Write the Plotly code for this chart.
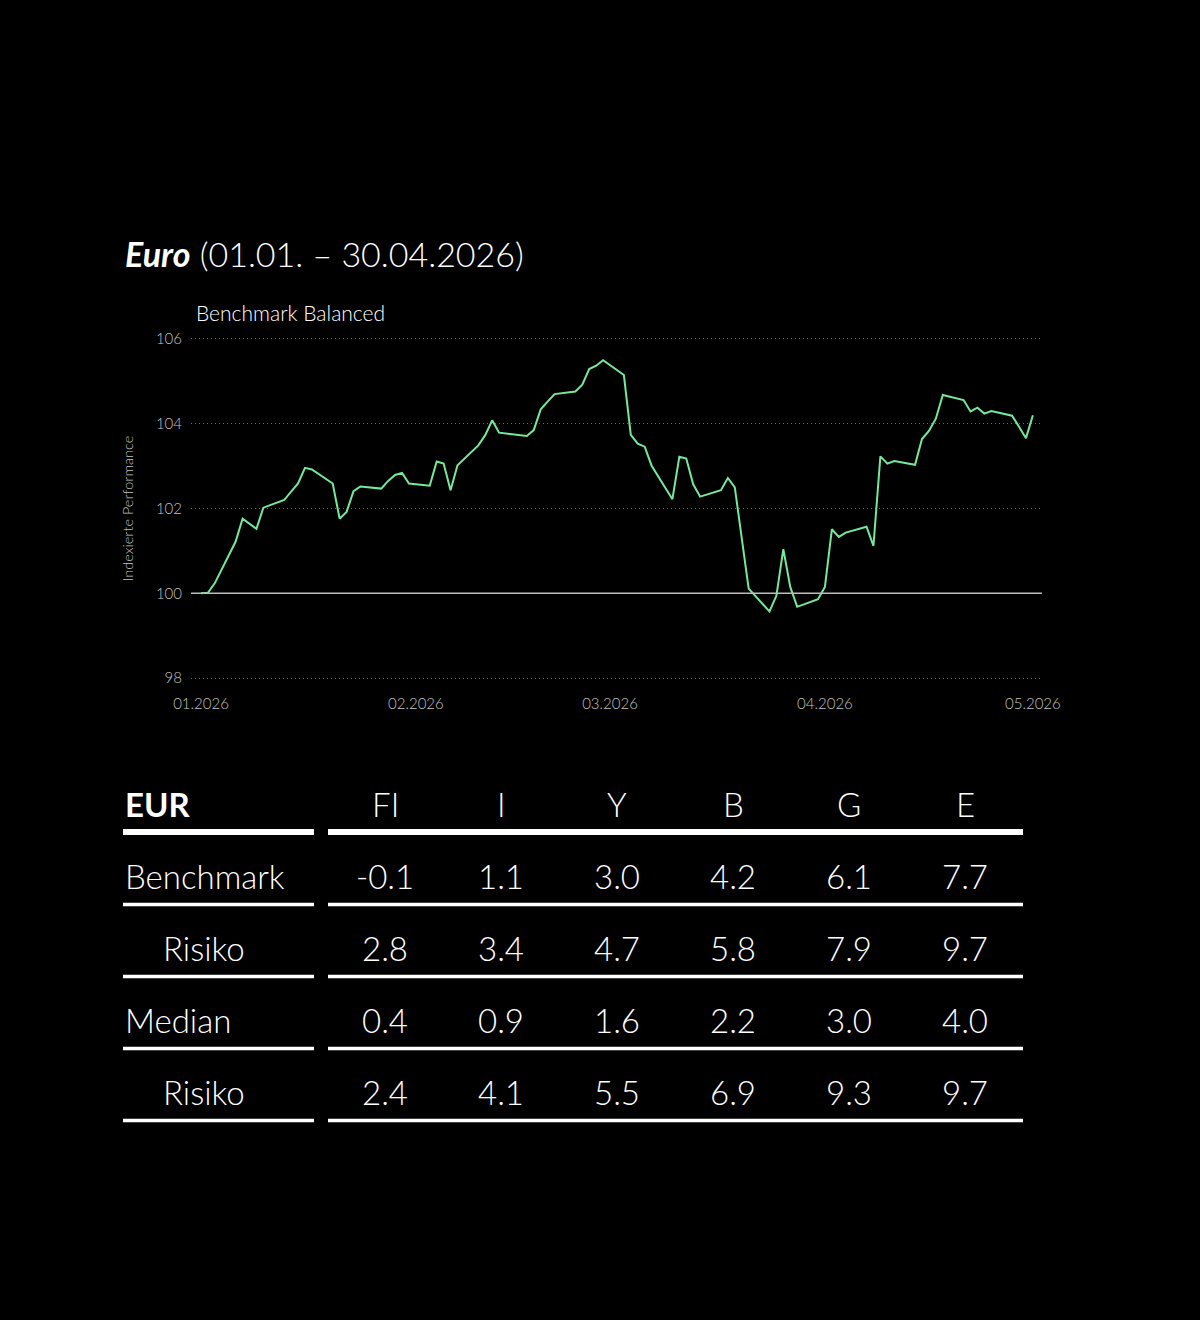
import plotly.graph_objects as go

W, H = 1200, 1320

# Index performance, Benchmark Balanced
dates = [
    "2026-01-01", "2026-01-02", "2026-01-03", "2026-01-06", "2026-01-07", "2026-01-08",
    "2026-01-09", "2026-01-10", "2026-01-13", "2026-01-14", "2026-01-15", "2026-01-16",
    "2026-01-17", "2026-01-20", "2026-01-21", "2026-01-22", "2026-01-23", "2026-01-24",
    "2026-01-27", "2026-01-28", "2026-01-29", "2026-01-30", "2026-01-31", "2026-02-03",
    "2026-02-04", "2026-02-05", "2026-02-06", "2026-02-07", "2026-02-10", "2026-02-11",
    "2026-02-12", "2026-02-13", "2026-02-14", "2026-02-17", "2026-02-18", "2026-02-19",
    "2026-02-20", "2026-02-21", "2026-02-24", "2026-02-25", "2026-02-26", "2026-02-27",
    "2026-02-28", "2026-03-03", "2026-03-04", "2026-03-05", "2026-03-06", "2026-03-07",
    "2026-03-10", "2026-03-11", "2026-03-12", "2026-03-13", "2026-03-14", "2026-03-17",
    "2026-03-18", "2026-03-19", "2026-03-20", "2026-03-21", "2026-03-24", "2026-03-25",
    "2026-03-26", "2026-03-27", "2026-03-28", "2026-03-31", "2026-04-01", "2026-04-02",
    "2026-04-03", "2026-04-04", "2026-04-07", "2026-04-08", "2026-04-09", "2026-04-10",
    "2026-04-11", "2026-04-14", "2026-04-15", "2026-04-16", "2026-04-17", "2026-04-18",
    "2026-04-21", "2026-04-22", "2026-04-23", "2026-04-24", "2026-04-25", "2026-04-28",
    "2026-04-29", "2026-04-30", "2026-05-01",
]
values = [
    100.00, 100.01, 100.24, 101.22, 101.76, 101.64,
    101.52, 102.02, 102.20, 102.40, 102.59, 102.96,
    102.92, 102.59, 101.76, 101.92, 102.41, 102.52,
    102.47, 102.65, 102.79, 102.84, 102.59, 102.54,
    103.11, 103.06, 102.43, 103.02, 103.49, 103.73,
    104.08, 103.79, 103.77, 103.71, 103.85, 104.34,
    104.52, 104.70, 104.76, 104.92, 105.29, 105.37,
    105.50, 105.15, 103.74, 103.53, 103.46, 103.01,
    102.22, 103.22, 103.18, 102.57, 102.28, 102.43,
    102.72, 102.50, 101.30, 100.11, 99.57, 99.94,
    101.04, 100.15, 99.68, 99.86, 100.15, 101.51,
    101.33, 101.43, 101.57, 101.12, 103.23, 103.06,
    103.12, 103.03, 103.64, 103.83, 104.12, 104.68,
    104.56, 104.29, 104.38, 104.24, 104.30, 104.19,
    103.93, 103.66, 104.20,
]
y_ticks = [98, 100, 102, 104, 106]
x_ticks = ["2026-01-01", "2026-02-01", "2026-03-01", "2026-04-01", "2026-05-01"]

# Table
columns = ["FI", "I", "Y", "B", "G", "E"]
row_labels = ["Benchmark", "Risiko", "Median", "Risiko"]
row_indent = [False, True, False, True]
table_values = [
    [-0.1, 1.1, 3.0, 4.2, 6.1, 7.7],
    [2.8, 3.4, 4.7, 5.8, 7.9, 9.7],
    [0.4, 0.9, 1.6, 2.2, 3.0, 4.0],
    [2.4, 4.1, 5.5, 6.9, 9.3, 9.7],
]

FONT = "Lato"
LIGHT = "Lato Light, Lato"
GREEN = "#74E89C"
GREY = "#c4c4c4"


def fx(px):
    return px / W


def fy(py):
    return 1 - py / H


def light(size, color="white"):
    return dict(size=size, color=color, family=LIGHT, weight=300)


fig = go.Figure()
fig.add_trace(go.Scatter(
    x=dates, y=values, mode="lines",
    line=dict(color=GREEN, width=2),
    hovertemplate="%{x|%d.%m.%Y}: %{y:.2f}<extra></extra>",
    showlegend=False,
))

annotations = [
    dict(x=fx(123), y=fy(254),
         text="<span style='font-family:Lato;font-weight:700'><b><i>Euro</i></b></span> (01.01. – 30.04.2026)",
         font=light(34)),
    dict(x=fx(194), y=fy(313), text="Benchmark Balanced", font=light(21)),
]

# baseline at 100
shapes = [dict(type="line", xref="x domain", yref="y", x0=0, x1=1, y0=100, y1=100,
               line=dict(color="#bdbdbd", width=1.5), layer="above")]

# table
row_y0, row_step = 804, 72
col_x0, col_step = 385, 116
annotations.append(dict(x=fx(123), y=fy(row_y0), text="<b>EUR</b>",
                        font=dict(size=33, color="white", family=FONT)))
for j, c in enumerate(columns):
    annotations.append(dict(x=fx(col_x0 + j * col_step), y=fy(row_y0), text=c,
                            xanchor="center", font=light(33)))
for i, lab in enumerate(row_labels):
    yy = row_y0 + (i + 1) * row_step
    annotations.append(dict(x=fx(161 if row_indent[i] else 123), y=fy(yy), text=lab,
                            font=light(33)))
    for j, v in enumerate(table_values[i]):
        annotations.append(dict(x=fx(col_x0 + j * col_step), y=fy(yy), text=f"{v:.1f}",
                                xanchor="center", font=light(33)))

for i in range(len(row_labels) + 1):
    ly = 832 if i == 0 else 904.5 + (i - 1) * row_step
    lw = 6 if i == 0 else 3.5
    for a, b in [(123, 314), (328, 1023)]:
        shapes.append(dict(type="line", xref="paper", yref="paper",
                           x0=fx(a), x1=fx(b), y0=fy(ly), y1=fy(ly),
                           line=dict(color="white", width=lw)))

for a in annotations:
    a.setdefault("xanchor", "left")
    a.update(xref="paper", yref="paper", yanchor="middle", showarrow=False)

fig.update_layout(
    width=W, height=H,
    margin=dict(l=0, r=0, t=0, b=0, pad=0, autoexpand=False),
    paper_bgcolor="black", plot_bgcolor="black",
    font=dict(family=LIGHT, color=GREY),
    annotations=annotations,
    shapes=shapes,
    xaxis=dict(
        domain=[fx(191), fx(1042)],
        range=["2025-12-30 13:25", "2026-05-02 07:30"],
        tickvals=x_ticks, tickformat="%m.%Y",
        showgrid=False, zeroline=False, showline=False, automargin=False,
        ticks="", ticklabelstandoff=13,
        tickfont=light(15, GREY),
    ),
    yaxis=dict(
        domain=[fy(679.5), fy(337.5)],
        range=[97.965, 106.035], tickvals=y_ticks,
        showgrid=True, gridcolor="#6a6a6a", griddash="1px,3px", gridwidth=1,
        zeroline=False, showline=False, automargin=False,
        ticks="", ticklabelstandoff=8,
        tickfont=light(15, GREY),
        title=dict(text="Indexierte Performance", standoff=18, font=light(14.5, GREY)),
    ),
)

fig.write_html("out.html", config={"displayModeBar": False},
               post_script="document.body.style.margin='0';")
